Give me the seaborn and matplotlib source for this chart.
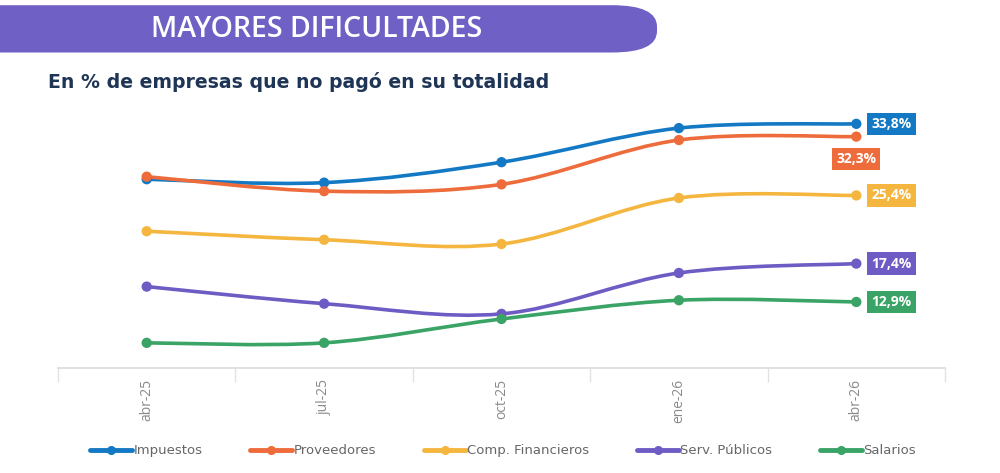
import numpy as np
import pandas as pd
import seaborn as sns
import matplotlib.pyplot as plt
from matplotlib.path import Path
from matplotlib.patches import PathPatch, FancyBboxPatch
from matplotlib.lines import Line2D

# data
periods = ['abr-25', 'jul-25', 'oct-25', 'ene-26', 'abr-26']
impuestos = [27.3, 26.9, 29.3, 33.3, 33.8]
proveedores = [27.6, 25.9, 26.7, 31.9, 32.3]
comp_financieros = [21.2, 20.2, 19.7, 25.1, 25.4]
serv_publicos = [14.7, 12.7, 11.5, 16.3, 17.4]
salarios = [8.1, 8.1, 10.9, 13.1, 12.9]

series_names = ['Impuestos', 'Proveedores', 'Comp. Financieros', 'Serv. Públicos', 'Salarios']
series_vals = [impuestos, proveedores, comp_financieros, serv_publicos, salarios]
colors = ['#1479C4', '#EE6B3B', '#F4B63F', '#6E5BC4', '#3AA366']
last_labels = ['33,8%', '32,3%', '25,4%', '17,4%', '12,9%']

df = pd.DataFrame({
    'periodo': np.tile(periods, len(series_names)),
    'x': np.tile(np.arange(len(periods)), len(series_names)),
    'serie': np.repeat(series_names, len(periods)),
    'valor': np.concatenate(series_vals),
})

sns.set_theme(style="white")
plt.rcParams['font.family'] = ['Open Sans', 'DejaVu Sans']

fig = plt.figure(figsize=(10, 4.73), dpi=100)
ax = fig.add_axes([0.058, 0.222, 0.887, 0.545])


def smooth_path(xs, ys):
    # Catmull-Rom style bezier like the smoothed lines in the original
    pts = np.column_stack([xs, ys]).astype(float)
    verts = [pts[0]]
    codes = [Path.MOVETO]
    n = len(pts)
    for i in range(n - 1):
        p0 = pts[max(i - 1, 0)]
        p1 = pts[i]
        p2 = pts[i + 1]
        p3 = pts[min(i + 2, n - 1)]
        c1 = p1 + (p2 - p0) / 6
        c2 = p2 - (p3 - p1) / 6
        verts += [c1, c2, p2]
        codes += [Path.CURVE4] * 3
    return Path(verts, codes)


for name, col in zip(series_names, colors):
    sub = df[df['serie'] == name]
    ax.add_patch(PathPatch(smooth_path(sub['x'], sub['valor']), facecolor='none',
                           edgecolor=col, lw=2.6, capstyle='round', zorder=2))

sns.scatterplot(data=df, x='x', y='valor', hue='serie', palette=colors,
                s=55, edgecolor='none', legend=False, zorder=3, ax=ax)

ax.set_xlim(-0.5, len(periods) - 0.5)
ax.set_ylim(5.15, 35.4)
ax.set_xticks(np.arange(len(periods)))
ax.set_xticklabels(periods, rotation=90, color='#8a8a8a', fontsize=10)
ax.set_xticks(np.arange(len(periods) + 1) - 0.5, minor=True)
ax.tick_params(axis='x', which='major', length=0, pad=8)
ax.tick_params(axis='x', which='minor', length=10, color='#e2e2e2', direction='out', bottom=True)
ax.set_yticks([])
ax.set_xlabel('')
ax.set_ylabel('')
for s in ['top', 'left', 'right']:
    ax.spines[s].set_visible(False)
ax.spines['bottom'].set_color('#dddddd')

# end labels
last = len(periods) - 1
offsets = [(0.085, 0.0), (0.0, -2.6), (0.085, 0.0), (0.085, 0.0), (0.085, 0.0)]
for vals, col, lab, (dx, dy) in zip(series_vals, colors, last_labels, offsets):
    ha = 'left' if dx > 0 else 'center'
    ax.text(last + dx, vals[-1] + dy, lab, color='white', fontsize=10, fontweight='bold',
            ha=ha, va='center', zorder=5, clip_on=False,
            bbox=dict(boxstyle='square,pad=0.3', facecolor=col, edgecolor='none'))

# title banner
banner = FancyBboxPatch((-0.05, 0.889), 0.707, 0.1, boxstyle='round,pad=0,rounding_size=0.045',
                        transform=fig.transFigure, facecolor='#6E60C4', edgecolor='none',
                        mutation_aspect=1.0)
fig.patches.append(banner)
fig.text(0.317, 0.937, 'MAYORES DIFICULTADES', color='white', fontsize=20.5,
         fontweight='semibold', ha='center', va='center')
fig.text(0.048, 0.826, 'En % de empresas que no pagó en su totalidad', color='#1F3556',
         fontsize=13.6, fontweight='bold', ha='left', va='center', family='DejaVu Sans')

handles = [Line2D([0], [0], color=c, lw=3.5, marker='o', markersize=5.5) for c in colors]
fig.legend(handles, series_names, loc='center', bbox_to_anchor=(0.503, 0.047), ncol=5,
           frameon=False, handlelength=3.2, handletextpad=0.1, columnspacing=3.6,
           prop={'family': 'DejaVu Sans', 'size': 9.5}, labelcolor='#666666')

fig.savefig('out.png', dpi=100)
